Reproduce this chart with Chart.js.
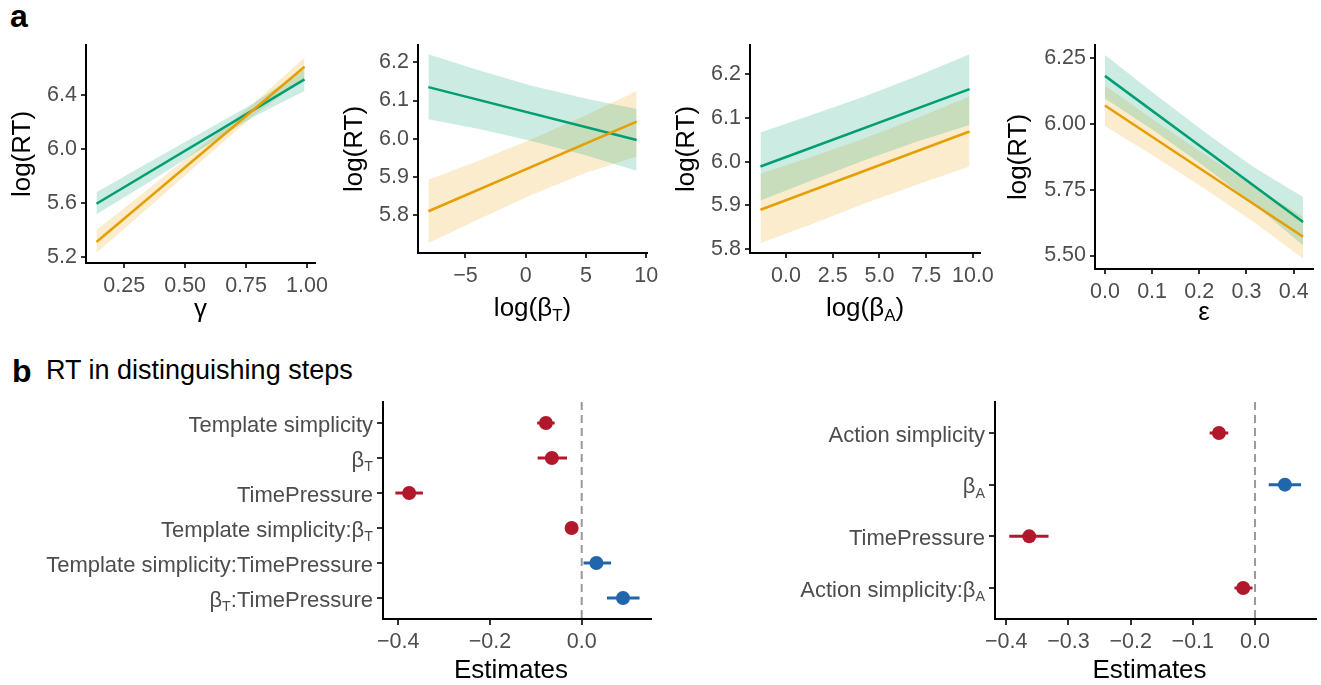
<!DOCTYPE html>
<html>
<head>
<meta charset="utf-8">
<script src="https://cdn.jsdelivr.net/npm/chart.js@4.4.1/dist/chart.umd.min.js"></script>
<style>
html,body{margin:0;padding:0;background:#fff;}
body{width:1321px;height:685px;position:relative;overflow:hidden;font-family:"Liberation Sans",Arial,Helvetica,sans-serif;}
canvas{position:absolute;}
.lbl{position:absolute;line-height:1;white-space:nowrap;color:#000;}
</style>
</head>
<body>
<div class="lbl" style="left:10px;top:0px;font-size:32px;font-weight:bold;">a</div>
<div class="lbl" style="left:12px;top:355px;font-size:32px;font-weight:bold;">b</div>
<div class="lbl" style="left:46px;top:357px;font-size:27px;">RT in distinguishing steps</div>
<canvas id="p1"></canvas>
<canvas id="p2"></canvas>
<canvas id="p3"></canvas>
<canvas id="p4"></canvas>
<canvas id="p5"></canvas>
<canvas id="p6"></canvas>
<script>
// ---------------- DATA ----------------
// Panel a1: gamma
const gammaLineX = [0.136, 0.99];
const gammaGreen = [5.593, 6.517];
const gammaOrange = [5.309, 6.611];
const gammaBandX = [0.136, 0.35, 0.56, 0.775, 0.99];
const gammaGreenUpper = [5.678, 5.900, 6.112, 6.334, 6.591];
const gammaGreenLower = [5.515, 5.750, 5.992, 6.234, 6.430];
const gammaOrangeUpper = [5.398, 5.705, 6.010, 6.328, 6.680];
const gammaOrangeLower = [5.230, 5.565, 5.900, 6.238, 6.529];
const gammaXTicks = [0.25, 0.5, 0.75, 1.0];
const gammaXTickLabels = ["0.25", "0.50", "0.75", "1.00"];
const gammaYTicks = [5.2, 5.6, 6.0, 6.4];
const gammaYTickLabels = ["5.2", "5.6", "6.0", "6.4"];

// Panel a2: log(beta_T)
const betaTLineX = [-8.08, 9.2];
const betaTGreen = [6.135, 5.997];
const betaTOrange = [5.811, 6.045];
const betaTBandX = [-8.08, -3.76, 0.56, 4.88, 9.2];
const betaTGreenUpper = [6.221, 6.178, 6.138, 6.106, 6.078];
const betaTGreenLower = [6.051, 6.025, 5.994, 5.958, 5.917];
const betaTOrangeUpper = [5.893, 5.945, 6.000, 6.060, 6.125];
const betaTOrangeLower = [5.728, 5.792, 5.855, 5.910, 5.954];
const betaTXTicks = [-5, 0, 5, 10];
const betaTXTickLabels = ["\u22125", "0", "5", "10"];
const betaTYTicks = [5.8, 5.9, 6.0, 6.1, 6.2];
const betaTYTickLabels = ["5.8", "5.9", "6.0", "6.1", "6.2"];

// Panel a3: log(beta_A)
const betaALineX = [-1.37, 9.82];
const betaAGreen = [5.989, 6.166];
const betaAOrange = [5.890, 6.069];
const betaABandX = [-1.37, 1.43, 4.23, 7.02, 9.82];
const betaAGreenUpper = [6.067, 6.108, 6.150, 6.196, 6.246];
const betaAGreenLower = [5.911, 5.958, 6.004, 6.046, 6.084];
const betaAOrangeUpper = [5.973, 6.012, 6.054, 6.100, 6.149];
const betaAOrangeLower = [5.814, 5.858, 5.905, 5.948, 5.989];
const betaAXTicks = [0, 2.5, 5, 7.5, 10];
const betaAXTickLabels = ["0.0", "2.5", "5.0", "7.5", "10.0"];
const betaAYTicks = [5.8, 5.9, 6.0, 6.1, 6.2];
const betaAYTickLabels = ["5.8", "5.9", "6.0", "6.1", "6.2"];

// Panel a4: epsilon
const epsLineX = [0, 0.42];
const epsGreen = [6.181, 5.627];
const epsOrange = [6.069, 5.571];
const epsBandX = [0, 0.105, 0.21, 0.315, 0.42];
const epsGreenUpper = [6.260, 6.113, 5.970, 5.836, 5.722];
const epsGreenLower = [6.095, 5.972, 5.838, 5.695, 5.539];
const epsOrangeUpper = [6.145, 6.012, 5.885, 5.763, 5.648];
const epsOrangeLower = [5.991, 5.875, 5.755, 5.628, 5.489];
const epsXTicks = [0, 0.1, 0.2, 0.3, 0.4];
const epsXTickLabels = ["0.0", "0.1", "0.2", "0.3", "0.4"];
const epsYTicks = [5.5, 5.75, 6.0, 6.25];
const epsYTickLabels = ["5.50", "5.75", "6.00", "6.25"];

// Panel b left: template model
const templTerms = ["Template simplicity", "\u03B2_T", "TimePressure", "Template simplicity:\u03B2_T", "Template simplicity:TimePressure", "\u03B2_T:TimePressure"];
const templEst = [-0.078, -0.065, -0.376, -0.022, 0.032, 0.090];
const templLow = [-0.097, -0.096, -0.406, -0.033, 0.004, 0.055];
const templHigh = [-0.059, -0.032, -0.346, -0.010, 0.064, 0.126];
const templXTicks = [-0.4, -0.2, 0.0];
const templXTickLabels = ["\u22120.4", "\u22120.2", "0.0"];

// Panel b right: action model
const actTerms = ["Action simplicity", "\u03B2_A", "TimePressure", "Action simplicity:\u03B2_A"];
const actEst = [-0.058, 0.048, -0.363, -0.019];
const actLow = [-0.073, 0.022, -0.395, -0.033];
const actHigh = [-0.043, 0.074, -0.332, -0.004];
const actXTicks = [-0.4, -0.3, -0.2, -0.1, 0.0];
const actXTickLabels = ["\u22120.4", "\u22120.3", "\u22120.2", "\u22120.1", "0.0"];

// ---------------- STYLE ----------------
const FONT = '"Liberation Sans", Arial, Helvetica, sans-serif';
const GREEN = '#009E73', ORANGE = '#E69F00';
const GREEN_BAND = 'rgba(0,158,115,0.2)', ORANGE_BAND = 'rgba(230,159,0,0.2)';
const RED = '#B2182B', BLUE = '#2166AC';
const TICK_SIZE = 21.5, CAT_SIZE = 22, TITLE_SIZE = 26;
Chart.defaults.font.family = FONT;
Chart.defaults.animation = false;

function drawRich(ctx, text, x, y, size, align, color) {
  const parts = [];
  const re = /_(.)/g; let last = 0, m;
  while ((m = re.exec(text))) {
    if (m.index > last) parts.push({t: text.slice(last, m.index), sub: false});
    parts.push({t: m[1], sub: true});
    last = re.lastIndex;
  }
  if (last < text.length) parts.push({t: text.slice(last), sub: false});
  const subSize = size * 0.65;
  let total = 0;
  for (const p of parts) {
    ctx.font = (p.sub ? subSize : size) + 'px ' + FONT;
    p.w = ctx.measureText(p.t).width; total += p.w;
  }
  let cx = align === 'right' ? x - total : (align === 'center' ? x - total / 2 : x);
  ctx.fillStyle = color; ctx.textBaseline = 'alphabetic'; ctx.textAlign = 'left';
  for (const p of parts) {
    ctx.font = (p.sub ? subSize : size) + 'px ' + FONT;
    ctx.fillText(p.t, cx, p.sub ? y + size * 0.2 : y);
    cx += p.w;
  }
}

function linAxis(o) {
  return {
    type: 'linear', min: o.min, max: o.max, reverse: !!o.reverse,
    afterBuildTicks: s => { s.ticks = o.ticks.map(v => ({value: v})); },
    afterFit: s => {
      if (o.isX) s.height = o.fit; else s.width = o.fit;
      s.paddingLeft = 0; s.paddingRight = 0; s.paddingTop = 0; s.paddingBottom = 0;
    },
    grid: {drawOnChartArea: false, drawTicks: true, tickLength: o.tickLen, tickColor: '#333333', tickWidth: 2, color: '#333333', lineWidth: 2},
    border: {display: true, color: '#000000', width: 2},
    ticks: {display: o.showLabels !== false, padding: o.pad, color: '#4D4D4D', font: {size: TICK_SIZE, family: FONT},
            maxRotation: 0, minRotation: 0, autoSkip: false,
            callback: (v, i) => (o.labels ? o.labels[i] : v)},
    title: {display: false}
  };
}

function setupCanvas(id, box) {
  const cv = document.getElementById(id);
  cv.width = box.w; cv.height = box.h;
  cv.style.left = box.x + 'px'; cv.style.top = box.y + 'px';
  cv.style.width = box.w + 'px'; cv.style.height = box.h + 'px';
  return cv;
}

const pts = (xs, ys) => xs.map((x, i) => ({x: x, y: ys[i]}));

function topPanel(id, box, rect, d, cfg) {
  const cv = setupCanvas(id, box);
  const line = (data, color) => ({data, borderColor: color, borderWidth: 2.5, pointRadius: 0, fill: false, tension: 0});
  const band = (data, fill, bg) => ({data, borderWidth: 0, borderColor: 'rgba(0,0,0,0)', pointRadius: 0, fill, backgroundColor: bg, tension: 0});
  const datasets = [
    line(pts(d.lineX, d.orange), ORANGE),
    line(pts(d.lineX, d.green), GREEN),
    band(pts(d.bandX, d.gU), '+1', GREEN_BAND),
    band(pts(d.bandX, d.gL), false, GREEN_BAND),
    band(pts(d.bandX, d.oU), '+1', ORANGE_BAND),
    band(pts(d.bandX, d.oL), false, ORANGE_BAND)
  ];
  const titles = {
    id: 'titles_' + id,
    afterDraw(chart) {
      const ctx = chart.ctx, a = chart.chartArea;
      ctx.save();
      drawRich(ctx, cfg.xTitle, (a.left + a.right) / 2, a.bottom + cfg.xTitleDy, TITLE_SIZE, 'center', '#000');
      ctx.translate(a.left - cfg.yTitleDx, (a.top + a.bottom) / 2);
      ctx.rotate(-Math.PI / 2);
      drawRich(ctx, 'log(RT)', 0, 0, TITLE_SIZE, 'center', '#000');
      ctx.restore();
    }
  };
  new Chart(cv, {
    type: 'line',
    data: {datasets},
    options: {
      responsive: false, animation: false, devicePixelRatio: 1,
      layout: {autoPadding: false, padding: {left: 0, top: rect.t - box.y, right: box.x + box.w - rect.r, bottom: 0}},
      plugins: {legend: {display: false}, tooltip: {enabled: false}},
      scales: {
        x: linAxis({isX: true, min: cfg.xMin, max: cfg.xMax, ticks: d.xTicks, labels: d.xLabels, tickLen: 5, pad: 5, fit: box.y + box.h - rect.b}),
        y: linAxis({isX: false, min: cfg.yMin, max: cfg.yMax, ticks: d.yTicks, labels: d.yLabels, tickLen: 5, pad: 4, fit: rect.l - box.x})
      }
    },
    plugins: [titles]
  });
}

function coefPanel(id, box, rect, terms, est, lo, hi, xTicks, xLabels, cfg) {
  const cv = setupCanvas(id, box);
  const n = terms.length;
  const idx = terms.map((t, i) => i + 1);
  const colOf = v => (v < 0 ? RED : BLUE);
  const datasets = [{
    data: pts(est, idx), showLine: false, pointRadius: 7, pointHoverRadius: 7,
    pointBackgroundColor: est.map(colOf), pointBorderWidth: 0, borderColor: 'rgba(0,0,0,0)'
  }];
  terms.forEach((t, i) => {
    datasets.push({data: [{x: lo[i], y: idx[i]}, {x: hi[i], y: idx[i]}], borderColor: colOf(est[i]), borderWidth: 3, pointRadius: 0, fill: false});
  });
  const refValue = 0;
  const deco = {
    id: 'deco_' + id,
    beforeDatasetsDraw(chart) {
      const ctx = chart.ctx, a = chart.chartArea;
      const px = chart.scales.x.getPixelForValue(refValue);
      ctx.save();
      ctx.strokeStyle = '#9A9A9A'; ctx.lineWidth = 2; ctx.setLineDash([8, 5]);
      ctx.beginPath(); ctx.moveTo(px, a.top); ctx.lineTo(px, a.bottom); ctx.stroke();
      ctx.restore();
    },
    afterDraw(chart) {
      const ctx = chart.ctx, a = chart.chartArea, ys = chart.scales.y;
      ctx.save();
      terms.forEach((t, i) => {
        const py = ys.getPixelForValue(idx[i]);
        drawRich(ctx, t, a.left - 10, py + CAT_SIZE * 0.4, CAT_SIZE, 'right', '#4D4D4D');
      });
      drawRich(ctx, 'Estimates', (a.left + a.right) / 2 + cfg.xTitleShift, a.bottom + cfg.xTitleDy, TITLE_SIZE, 'center', '#000');
      ctx.restore();
    }
  };
  new Chart(cv, {
    type: 'line',
    data: {datasets},
    options: {
      responsive: false, animation: false, devicePixelRatio: 1,
      layout: {autoPadding: false, padding: {left: 0, top: rect.t - box.y, right: box.x + box.w - rect.r, bottom: 0}},
      plugins: {legend: {display: false}, tooltip: {enabled: false}},
      scales: {
        x: linAxis({isX: true, min: cfg.xMin, max: cfg.xMax, ticks: xTicks, labels: xLabels, tickLen: 6, pad: 4, fit: box.y + box.h - rect.b}),
        y: linAxis({isX: false, min: 0.4, max: n + 0.6, reverse: true, ticks: idx, labels: null, showLabels: false, tickLen: 6, pad: 4, fit: rect.l - box.x})
      }
    },
    plugins: [deco]
  });
}

topPanel('p1', {x: 0, y: 35, w: 335, h: 295}, {l: 86, t: 45, r: 315, b: 263},
  {lineX: gammaLineX, green: gammaGreen, orange: gammaOrange, bandX: gammaBandX,
   gU: gammaGreenUpper, gL: gammaGreenLower, oU: gammaOrangeUpper, oL: gammaOrangeLower,
   xTicks: gammaXTicks, xLabels: gammaXTickLabels, yTicks: gammaYTicks, yLabels: gammaYTickLabels},
  {xMin: 0.093, xMax: 1.033, yMin: 5.153, yMax: 6.772, xTitle: '\u03B3', xTitleDy: 54, yTitleDx: 56});

topPanel('p2', {x: 330, y: 35, w: 335, h: 295}, {l: 418, t: 45, r: 647, b: 253},
  {lineX: betaTLineX, green: betaTGreen, orange: betaTOrange, bandX: betaTBandX,
   gU: betaTGreenUpper, gL: betaTGreenLower, oU: betaTOrangeUpper, oL: betaTOrangeLower,
   xTicks: betaTXTicks, xLabels: betaTXTickLabels, yTicks: betaTYTicks, yLabels: betaTYTickLabels},
  {xMin: -8.94, xMax: 10.06, yMin: 5.702, yMax: 6.245, xTitle: 'log(\u03B2_T)', xTitleDy: 63, yTitleDx: 56});

topPanel('p3', {x: 660, y: 35, w: 345, h: 295}, {l: 750, t: 45, r: 980, b: 253},
  {lineX: betaALineX, green: betaAGreen, orange: betaAOrange, bandX: betaABandX,
   gU: betaAGreenUpper, gL: betaAGreenLower, oU: betaAOrangeUpper, oL: betaAOrangeLower,
   xTicks: betaAXTicks, xLabels: betaAXTickLabels, yTicks: betaAYTicks, yLabels: betaAYTickLabels},
  {xMin: -1.93, xMax: 10.38, yMin: 5.791, yMax: 6.267, xTitle: 'log(\u03B2_A)', xTitleDy: 63, yTitleDx: 56});

topPanel('p4', {x: 990, y: 35, w: 331, h: 295}, {l: 1095, t: 45, r: 1313, b: 269},
  {lineX: epsLineX, green: epsGreen, orange: epsOrange, bandX: epsBandX,
   gU: epsGreenUpper, gL: epsGreenLower, oU: epsOrangeUpper, oL: epsOrangeLower,
   xTicks: epsXTicks, xLabels: epsXTickLabels, yTicks: epsYTicks, yLabels: epsYTickLabels},
  {xMin: -0.021, xMax: 0.441, yMin: 5.449, yMax: 6.298, xTitle: '\u03B5', xTitleDy: 51, yTitleDx: 69});

coefPanel('p5', {x: 0, y: 390, w: 660, h: 295}, {l: 383, t: 402, r: 651, b: 619},
  templTerms, templEst, templLow, templHigh, templXTicks, templXTickLabels,
  {xMin: -0.433, xMax: 0.151, xTitleDy: 59, xTitleShift: -6});

coefPanel('p6', {x: 660, y: 390, w: 661, h: 295}, {l: 995, t: 402, r: 1316, b: 619},
  actTerms, actEst, actLow, actHigh, actXTicks, actXTickLabels,
  {xMin: -0.418, xMax: 0.098, xTitleDy: 59, xTitleShift: -6});
</script>
</body>
</html>
